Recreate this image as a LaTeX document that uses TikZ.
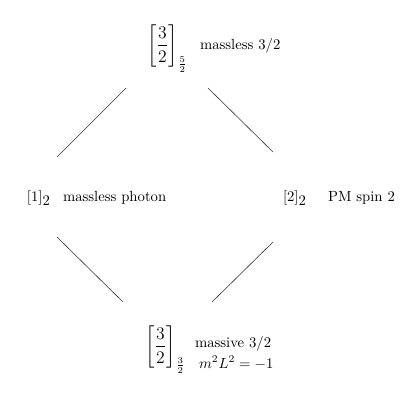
\documentclass[tikz,border=0pt]{standalone}
\usepackage{amsmath}
\begin{document}
\begin{tikzpicture}[x=0.68pt,y=-0.68pt,
  lab/.style={anchor=base west,inner sep=0pt,outer sep=0pt},
  big/.style={anchor=base west,inner sep=0pt,outer sep=0pt,font=\large},
  conn/.style={line width=0.4pt,black!80}]
\useasboundingbox (0,0) rectangle (416,402);
% nodes
\node[big] (top) at (147,50) {$\left[\dfrac{3}{2}\right]_{\frac{5}{2}}$};
\node[lab] (toplab) at (200,49) {massless $3/2$};
\node[lab] (left) at (27,201) {$[1]_{\textstyle 2}$};
\node[lab] (leftlab) at (63,201) {massless photon};
\node[lab] (right) at (283,201) {$[2]_{\textstyle 2}$};
\node[lab] (rightlab) at (328,201) {PM spin 2};
\node[big] (bot) at (145,351) {$\left[\dfrac{3}{2}\right]_{\frac{3}{2}}$};
\node[lab] (botlab1) at (195,347) {massive $3/2$};
\node[lab] (botlab2) at (199,368) {$m^2L^2=-1$};
% connector ends
\coordinate (tl1) at (126,88);  \coordinate (tl2) at (57,157);
\coordinate (tr1) at (208,88);  \coordinate (tr2) at (273,152);
\coordinate (bl1) at (57,237);  \coordinate (bl2) at (123,302);
\coordinate (br1) at (273,242); \coordinate (br2) at (212,302);
\draw[conn] (tl1) -- (tl2);
\draw[conn] (tr1) -- (tr2);
\draw[conn] (bl1) -- (bl2);
\draw[conn] (br1) -- (br2);
\end{tikzpicture}
\end{document}
